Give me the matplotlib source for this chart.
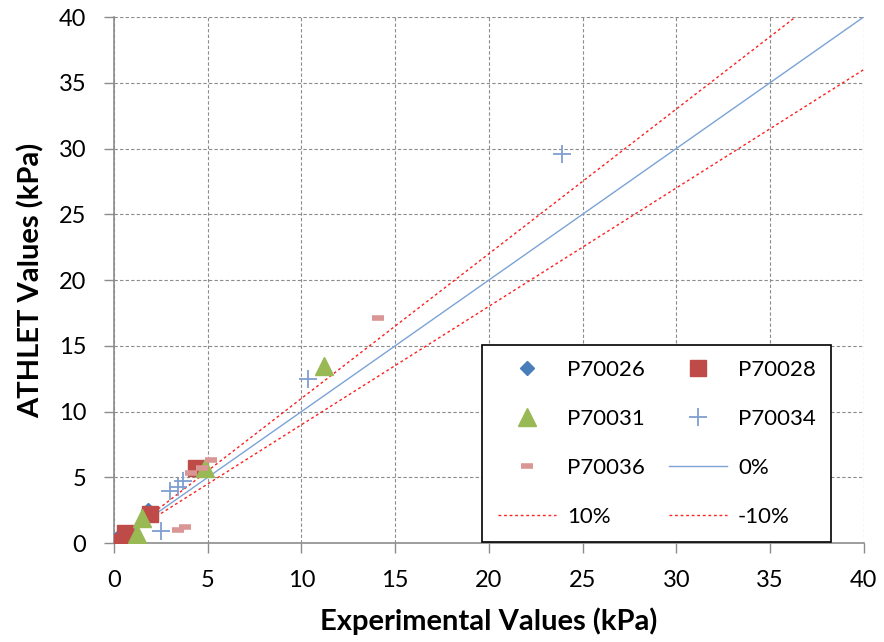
import matplotlib
matplotlib.use("Agg")
import matplotlib.pyplot as plt
import numpy as np

plt.rcParams['font.family'] = ['Lato', 'DejaVu Sans']

p70026_x = [0.1, 0.2, 1.8]
p70026_y = [0.3, 0.5, 2.5]
p70028_x = [0.4, 0.6, 1.9, 4.4]
p70028_y = [0.1, 0.8, 2.2, 5.7]
p70031_x = [1.2, 1.5, 4.85, 11.2]
p70031_y = [0.7, 1.9, 5.7, 13.5]
p70034_x = [2.5, 3.0, 3.4, 3.7, 10.35, 23.9]
p70034_y = [0.9, 4.0, 4.3, 4.7, 12.5, 29.6]
p70036_x = [3.4, 3.8, 4.1, 4.7, 5.2, 14.1]
p70036_y = [1.0, 1.2, 5.35, 5.7, 6.35, 17.1]
line_x = [0, 40]
xticks = [0, 5, 10, 15, 20, 25, 30, 35, 40]
yticks = [0, 5, 10, 15, 20, 25, 30, 35, 40]

fig = plt.figure(figsize=(8.84, 6.42), dpi=100)
ax = fig.add_axes([0.129, 0.154, 0.848, 0.8195])

h = {}
h['P70026'], = ax.plot(p70026_x, p70026_y, linestyle='none', marker='D', color='#4A7EBB', markersize=7, label='P70026', zorder=3)
h['P70028'], = ax.plot(p70028_x, p70028_y, linestyle='none', marker='s', color='#BE4B48', markersize=11, label='P70028', zorder=3)
h['P70031'], = ax.plot(p70031_x, p70031_y, linestyle='none', marker='^', color='#98B954', markersize=13, label='P70031', zorder=4)
h['P70034'], = ax.plot(p70034_x, p70034_y, linestyle='none', marker='+', color='#7F9FD0', markersize=13, markeredgewidth=1.3, label='P70034', zorder=4)
h['P70036'], = ax.plot(p70036_x, p70036_y, linestyle='none', marker='_', color='#D99694', markersize=8, markeredgewidth=4, label='P70036', zorder=4)

lx = np.array(line_x, dtype=float)
h['0%'], = ax.plot(lx, lx, color='#7BA3D6', linewidth=1.0, label='0%', zorder=2)
h['10%'], = ax.plot(lx, 1.1 * lx, color='#FF2020', linewidth=1.0, linestyle=(0, (2, 2)), label='10%', zorder=2)
h['-10%'], = ax.plot(lx, 0.9 * lx, color='#FF2020', linewidth=1.0, linestyle=(0, (2, 2)), label='-10%', zorder=2)

ax.set_xlim(0, 40)
ax.set_ylim(0, 40)
ax.set_xticks(xticks)
ax.set_yticks(yticks)
ax.tick_params(labelsize=17, length=7, width=1, color='#8C8C8C', direction='out')
ax.tick_params(axis='y', pad=13)
ax.tick_params(axis='x', pad=12)
ax.grid(True, color='#8C8C8C', linestyle=(0, (3, 2)), linewidth=0.8)
ax.set_axisbelow(True)
for s in ['top', 'right']:
    ax.spines[s].set_visible(False)
for s in ['left', 'bottom']:
    ax.spines[s].set_color('#8C8C8C')
    ax.spines[s].set_linewidth(1.2)

ax.set_xlabel('Experimental Values (kPa)', fontsize=21, fontweight='bold', labelpad=12)
ax.set_ylabel('ATHLET Values (kPa)', fontsize=21, fontweight='bold', labelpad=10)

order = ['P70026', 'P70031', 'P70036', '10%', 'P70028', 'P70034', '0%', '-10%']
leg = ax.legend([h[k] for k in order], order, ncol=2, loc='upper left',
                bbox_to_anchor=(0.4765, 0.3985), fontsize=16,
                frameon=True, fancybox=False, edgecolor='black', framealpha=1,
                labelspacing=1.3, columnspacing=1.1, handlelength=2.6, borderpad=0.7,
                handletextpad=0.5)
leg.get_frame().set_linewidth(1.2)

fig.savefig('out.png', dpi=100)
